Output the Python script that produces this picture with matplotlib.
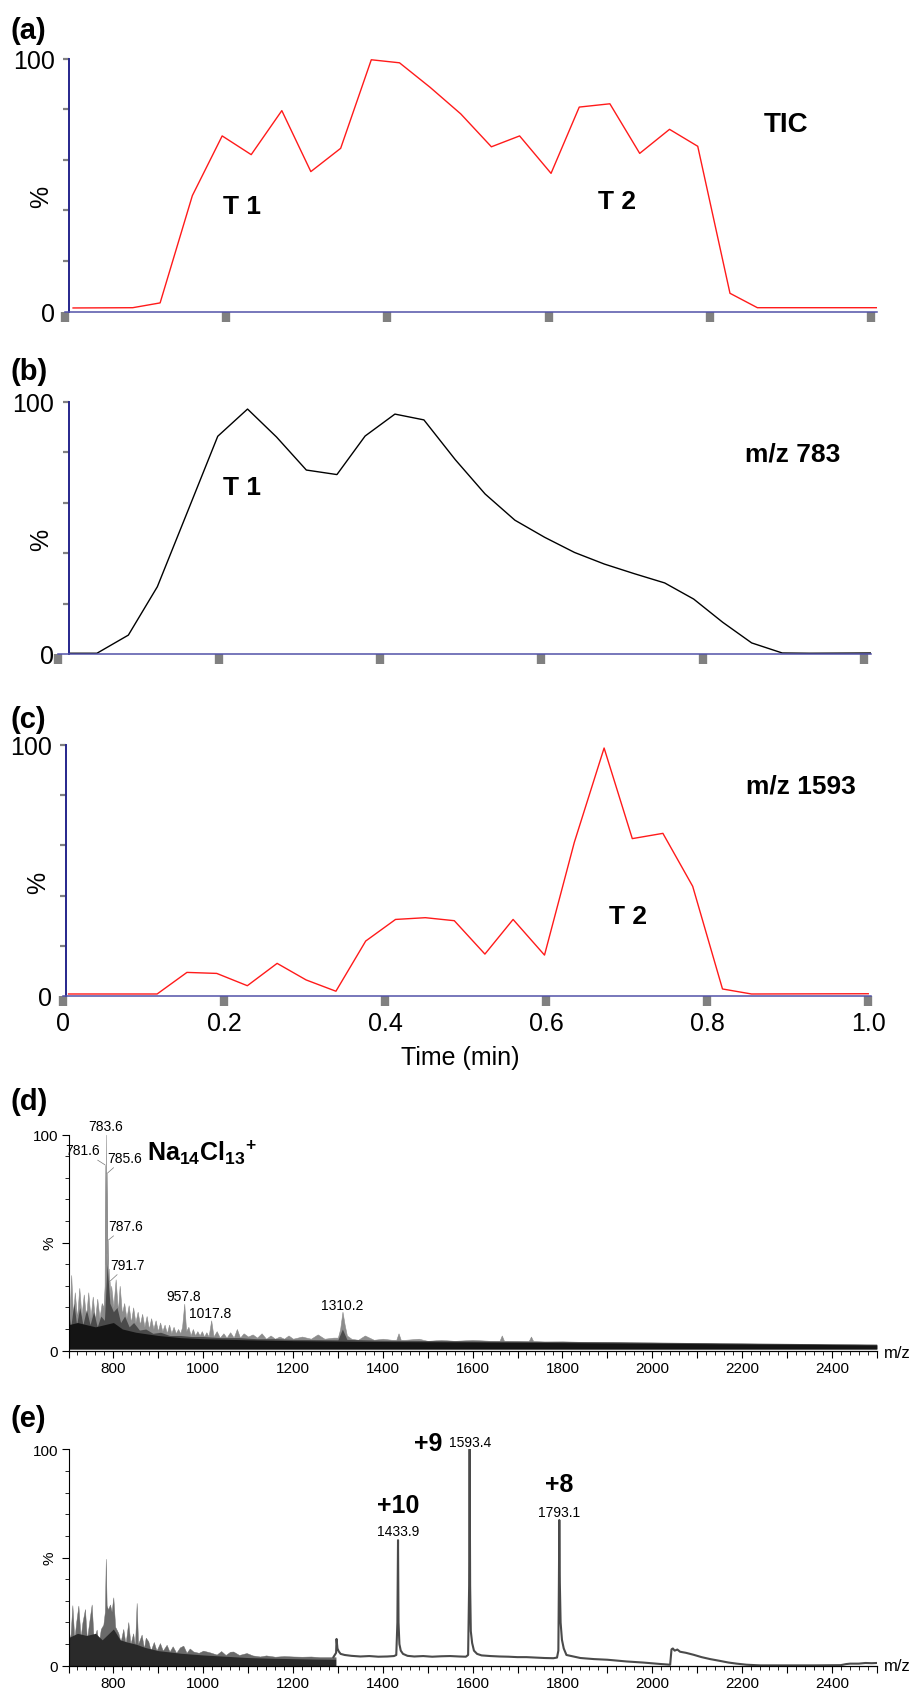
import matplotlib
matplotlib.use("Agg")
import matplotlib.pyplot as plt
from matplotlib.ticker import MultipleLocator, FixedLocator, FuncFormatter

plt.rcParams['font.family'] = ['Liberation Sans', 'DejaVu Sans']
plt.rcParams['mathtext.fontset'] = 'custom'
plt.rcParams['mathtext.rm'] = 'Liberation Sans'
plt.rcParams['mathtext.bf'] = 'Liberation Sans:bold'

# ---- chromatograms (time in min, relative intensity in %) ----
tic_time = [0.010, 0.084, 0.118, 0.158, 0.195, 0.231, 0.269, 0.305, 0.342, 0.380,
            0.415, 0.453, 0.491, 0.529, 0.564, 0.603, 0.638, 0.676, 0.713, 0.750,
            0.785, 0.825, 0.859, 1.007]
tic_pct = [1.4, 1.5, 3.4, 45.8, 69.4, 62.0, 79.4, 55.3, 64.5, 99.5,
           98.3, 88.6, 78.1, 65.1, 69.4, 54.6, 80.8, 82.1, 62.5, 72.0,
           65.3, 7.2, 1.5, 1.5]

mz783_time = [0.014, 0.048, 0.087, 0.123, 0.161, 0.198, 0.235, 0.271, 0.308, 0.346,
              0.381, 0.418, 0.454, 0.493, 0.530, 0.567, 0.604, 0.641, 0.678, 0.715,
              0.753, 0.789, 0.825, 0.861, 0.899, 0.933, 1.009]
mz783_pct = [0.3, 0.3, 7.5, 26.7, 56.9, 86.4, 97.2, 86.1, 73.0, 71.2,
             86.5, 95.2, 92.9, 77.1, 63.5, 53.1, 46.3, 40.3, 35.7, 31.9,
             28.2, 21.8, 12.6, 4.4, 0.4, 0.3, 0.4]

mz1593_time = [0.007, 0.117, 0.154, 0.191, 0.229, 0.266, 0.302, 0.339, 0.376, 0.413,
               0.450, 0.486, 0.524, 0.559, 0.598, 0.635, 0.672, 0.707, 0.745, 0.782,
               0.819, 0.855, 1.000]
mz1593_pct = [0.8, 0.8, 9.4, 9.0, 4.1, 13.0, 6.4, 1.9, 21.9, 30.5,
              31.2, 30.0, 16.7, 30.5, 16.3, 61.2, 98.8, 62.7, 64.8, 43.7,
              2.8, 0.8, 0.9]

time_ticks = [0, 0.2, 0.4, 0.6, 0.8, 1.0]
time_labels = ['0', '0.2', '0.4', '0.6', '0.8', '1.0']

# ---- spectrum (d): m/z vs %, three overlapping shades ----
mz_d_light = [700, 702, 706, 710, 714, 719, 724, 729, 734, 739,
              744, 749, 754, 759, 764, 769, 774, 778, 780.5, 781.6,
              782.5, 783.6, 784.6, 785.6, 786.6, 787.6, 788.6, 789.6, 790.6, 791.7,
              793, 795, 800, 805, 810, 814, 819, 824, 829, 834,
              839, 844, 849, 854, 859, 864, 869, 874, 879, 884,
              889, 894, 899, 904, 909, 914, 919, 924, 929, 934,
              939, 944, 949, 953, 957.8, 962, 967, 972, 977, 982,
              987, 992, 997, 1002, 1007, 1012, 1017.8, 1023, 1030, 1037,
              1045, 1052, 1060, 1068, 1075, 1082, 1090, 1100, 1110, 1120,
              1130, 1140, 1150, 1160, 1170, 1180, 1190, 1200, 1220, 1240,
              1255, 1270, 1290, 1300, 1305, 1310.2, 1315, 1320, 1330, 1345,
              1360, 1380, 1400, 1420, 1430, 1435, 1440, 1450, 1480, 1500,
              1530, 1560, 1600, 1640, 1660, 1665, 1670, 1680, 1700, 1725,
              1730, 1735, 1760, 1800, 1850, 1900, 1950, 2000, 2050, 2100,
              2150, 2200, 2250, 2300, 2350, 2400, 2450, 2500]
pct_d_light = [24, 14, 35, 16, 27, 15, 29, 16, 26, 15,
               27, 15, 25, 14, 24, 15, 22, 20, 30, 86,
               40, 100, 45, 82, 40, 51, 30, 38, 25, 32,
               24, 30, 20, 33, 18, 30, 17, 22, 15, 21,
               13, 20, 13, 18, 12, 17, 11, 16, 10, 15,
               10, 14, 9, 13, 9, 12, 8, 12, 8, 11,
               8, 10, 8, 11, 21.7, 9, 11, 7, 10, 7,
               9, 7, 9, 6.5, 8.5, 6.5, 14, 6.5, 9, 6,
               8, 6, 8.5, 6, 10, 6, 8, 6.5, 7.5, 6,
               8, 5.5, 7, 5.5, 6.5, 5.5, 7, 5.5, 6.5, 5.5,
               7.5, 5.5, 6, 6, 10, 18, 12, 7, 5.5, 5,
               7, 5, 5.5, 5, 5, 8, 5, 5, 5.5, 4.5,
               5, 4.5, 5, 4.5, 4.5, 7, 4.5, 4.5, 4.5, 4.4,
               6.5, 4.4, 4.2, 4.3, 4, 4, 3.8, 3.7, 3.5, 3.5,
               3.3, 3.3, 3.1, 3, 3, 2.8, 2.8, 2.6]

mz_d_mid = [700, 705, 712, 718, 725, 732, 740, 748, 756, 764,
            772, 780, 786, 792, 800, 808, 816, 825, 835, 845,
            858, 872, 888, 905, 925, 950, 975, 1000, 1040, 1080,
            1120, 1160, 1200, 1300, 1310, 1320, 1400, 1600, 1800, 2000,
            2200, 2500]
pct_d_mid = [18, 11, 22, 12, 20, 12, 19, 12, 18, 11,
             16, 14, 40, 22, 18, 20, 13, 16, 11, 13,
             9.5, 10, 8, 8.5, 7, 7, 6.5, 6.5, 6, 6,
             5.5, 5.5, 5.2, 5, 10, 5.2, 4.8, 4.5, 4.2, 3.9,
             3.5, 3.0]

mz_d_core = [700, 720, 740, 760, 780, 800, 820, 850, 900, 950,
             1000, 1100, 1200, 1300, 1400, 1600, 1800, 2000, 2200, 2400, 2500]
pct_d_core = [12, 13, 12, 11, 12, 13, 10, 8.5, 7, 6,
              5.5, 5, 4.6, 4.4, 4.2, 4.0, 3.7, 3.4, 3.1, 2.8, 2.6]

peaks_d = [781.6, 783.6, 785.6, 787.6, 791.7, 957.8, 1017.8, 1310.2]
peak_labels_d = ['781.6', '783.6', '785.6', '787.6', '791.7', '957.8', '1017.8', '1310.2']

# ---- spectrum (e) ----
mz_e_spk = [700, 704, 708.6, 713, 717, 722, 727, 731, 736.7, 741,
            746, 751.6, 756, 762.7, 767, 772, 777.6, 781, 783, 785,
            788, 792.4, 796, 799.8, 804, 811, 816, 822, 827, 833.2,
            838, 844, 848, 851.8, 855, 862.9, 868, 872, 877.7, 883,
            890, 896, 903.7, 910, 918.6, 925, 932, 940, 948, 955.7,
            963, 970, 978, 990, 1000, 1015, 1030, 1040, 1050, 1060,
            1067, 1080, 1096.7, 1110, 1126.4, 1140, 1160, 1180, 1200.6, 1220,
            1240, 1260, 1280, 1295]
pct_e_spk = [17, 12, 28, 12, 20, 27.8, 13, 20, 26.2, 12,
             20, 28.3, 12, 16.7, 10, 17, 19, 25, 49.4, 28,
             26, 28.3, 25, 31.6, 18, 15.1, 11, 17, 10, 20.2,
             10, 15, 9, 29, 10, 14.4, 8, 13, 11.3, 7,
             11, 7, 10.5, 7, 9.7, 6.5, 9, 6, 8.5, 9.3,
             6, 8, 6.6, 6, 7, 6.2, 5.2, 6.8, 5, 6.5,
             6.6, 5, 5.9, 4.8, 4.3, 4.8, 4.2, 4.5, 4.3, 4.2,
             4.3, 4, 4, 4]

mz_e_dark = [700, 720, 740, 760, 775, 785, 800, 815, 830, 850,
             870, 900, 950, 1000, 1050, 1100, 1150, 1200, 1250, 1295]
pct_e_dark = [13, 15, 14, 15, 12, 14, 17, 12, 11, 10,
              8.5, 7, 5.8, 5, 4.4, 3.8, 3.5, 3.3, 3.1, 3.0]

mz_e_line = [1290, 1296, 1297, 1299, 1302, 1306, 1315, 1330, 1350, 1370,
             1390, 1410, 1425, 1430, 1432.5, 1433.9, 1435, 1437, 1440, 1445,
             1455, 1470, 1490, 1510, 1530, 1550, 1570, 1585, 1590, 1592.3,
             1593.4, 1594.5, 1596, 1599, 1603, 1610, 1620, 1640, 1660, 1680,
             1700, 1720, 1740, 1760, 1780, 1788, 1791, 1792.2, 1793.1, 1794.3,
             1796, 1799, 1803, 1809, 1820, 1840, 1870, 1900, 1943, 1980,
             2020, 2040, 2043, 2046, 2050, 2056, 2062, 2075, 2092, 2110,
             2129, 2150, 2170, 2188, 2210, 2240, 2300, 2360, 2420, 2432,
             2441, 2460, 2475, 2489, 2500]
pct_e_line = [4, 6, 12.4, 8, 6.6, 5.5, 5, 4.6, 4.3, 4.5,
              4.2, 4.3, 4.5, 5, 20, 58, 20, 10, 7, 5.5,
              4.6, 4.3, 4.5, 4.2, 4.4, 4.5, 4.3, 4.2, 5, 37,
              100, 37, 16, 10.5, 7, 5.5, 4.8, 4.5, 4.3, 4.2,
              4, 4, 3.8, 3.6, 3.5, 3.8, 7, 38, 67.3, 38,
              20, 12, 8, 5, 4.5, 3.6, 3.1, 2.8, 2, 1.5,
              0.8, 0.5, 7.6, 8, 7, 7.5, 6.5, 6, 5.1, 4,
              3.1, 2.3, 1.5, 1, 0.5, 0.2, 0.2, 0.2, 0.3, 0.8,
              1, 1, 1.3, 1.2, 1.3]

peaks_e = [1433.9, 1593.4, 1793.1]
peak_labels_e = ['1433.9', '1593.4', '1793.1']
charge_labels_e = ['+10', '+9', '+8']

# ---- layout helpers (pixel positions of the 909 x 1690 figure) ----
W, H = 909, 1690
fig = plt.figure(figsize=(W / 100, H / 100), dpi=100)


def box(x0, x1, ytop, ybot):
    return [x0 / W, 1 - ybot / H, (x1 - x0) / W, (ybot - ytop) / H]


def ftext(x, y, s, **kw):
    fig.text(x / W, 1 - y / H, s, **kw)


def chrom(rect, t, p, color, xmax, spine_x, xlabels):
    ax = fig.add_axes(rect)
    ax.plot(t, p, color=color, lw=1.0)
    ax.set_xlim(0, xmax)
    ax.set_ylim(0, 100)
    ax.spines['top'].set_visible(False)
    ax.spines['right'].set_visible(False)
    ax.spines['left'].set_position(('data', spine_x))
    ax.spines['left'].set_color('#26268c')
    ax.spines['left'].set_linewidth(1.4)
    ax.spines['bottom'].set_color('#5252a8')
    ax.spines['bottom'].set_linewidth(1.1)
    ax.set_xticks(time_ticks)
    if xlabels:
        ax.set_xticklabels(time_labels)
    else:
        ax.set_xticklabels([])
    ax.tick_params(axis='x', direction='out', length=7, width=6,
                   color='#808080', labelsize=18, pad=4)
    ax.set_yticks([0, 100])
    ax.set_yticklabels(['0', '100'])
    ax.yaxis.set_minor_locator(FixedLocator([20, 40, 60, 80]))
    ax.tick_params(axis='y', which='both', direction='out', length=4.3, width=1.6,
                   color='#808080', labelsize=18, pad=6)
    ax.yaxis.get_major_ticks()[0].tick1line.set_visible(False)
    return ax


# (a) TIC
chrom(box(65, 877, 59.5, 312.5), tic_time, tic_pct, '#ff1a1a', 1.0074, 0.005, False)
ftext(11, 31, '(a)', fontsize=21, fontweight='bold', ha='left', va='center')
ftext(242, 207, 'T 1', fontsize=19, fontweight='bold', ha='center', va='center')
ftext(617, 202, 'T 2', fontsize=19, fontweight='bold', ha='center', va='center')
ftext(786, 125, 'TIC', fontsize=20, fontweight='bold', ha='center', va='center')
ftext(41, 197, '%', fontsize=18, rotation=90, ha='center', va='center')

# (b) m/z 783
chrom(box(58.3, 871, 403, 655), mz783_time, mz783_pct, 'black', 1.0092, 0.013, False)
ftext(11, 372, '(b)', fontsize=21, fontweight='bold', ha='left', va='center')
ftext(242, 488, 'T 1', fontsize=19, fontweight='bold', ha='center', va='center')
ftext(793, 455, 'm/z 783', fontsize=19, fontweight='bold', ha='center', va='center')
ftext(41, 540, '%', fontsize=18, rotation=90, ha='center', va='center')

# (c) m/z 1593
axc = chrom(box(62.9, 871, 746, 997), mz1593_time, mz1593_pct, '#ff1a1a', 1.0034, 0.004, True)
ftext(11, 720, '(c)', fontsize=21, fontweight='bold', ha='left', va='center')
ftext(801, 787, 'm/z 1593', fontsize=19, fontweight='bold', ha='center', va='center')
ftext(628, 917, 'T 2', fontsize=19, fontweight='bold', ha='center', va='center')
ftext(38, 883, '%', fontsize=18, rotation=90, ha='center', va='center')
ftext(460, 1058, 'Time (min)', fontsize=18, ha='center', va='center')


def spec_axes(rect):
    ax = fig.add_axes(rect)
    ax.set_xlim(700, 2500)
    ax.set_ylim(0, 100)
    ax.spines['top'].set_visible(False)
    ax.spines['right'].set_visible(False)
    ax.spines['left'].set_linewidth(0.8)
    ax.spines['bottom'].set_linewidth(0.9)
    ax.xaxis.set_major_locator(MultipleLocator(100))
    ax.xaxis.set_minor_locator(MultipleLocator(20))
    ax.xaxis.set_major_formatter(FuncFormatter(
        lambda v, pos: f'{v:.0f}' if round(v) % 200 == 0 and v > 700 else ''))
    ax.set_yticks([0, 50, 100])
    ax.set_yticklabels(['0', '', '100'])
    ax.yaxis.set_minor_locator(MultipleLocator(10))
    ax.tick_params(which='major', length=5, width=0.8, labelsize=11, pad=2.5)
    ax.tick_params(which='minor', length=2.6, width=0.6)
    return ax


def height_at(mz_list, pct_list, m):
    return pct_list[mz_list.index(m)]


# (d) spectrum summed over T1
axd = spec_axes(box(68.5, 876.7, 1135.7, 1351.6))
axd.fill_between(mz_d_light, 0.8, pct_d_light, color='#8c8c8c', lw=0.4)
axd.fill_between(mz_d_mid, 0.8, pct_d_mid, color='#4a4a4a', lw=0)
axd.fill_between(mz_d_core, 0.8, pct_d_core, color='#141414', lw=0)
offsets_d = [(-16.4, 10.5), (0, 6.5), (12.8, 11.3), (12.9, 10.4), (13, 12),
             (-0.7, 5.5), (-0.8, 5.5), (0, 4.8)]
for m, lab, off in zip(peaks_d, peak_labels_d, offsets_d):
    h = height_at(mz_d_light, pct_d_light, m)
    arrow = dict(arrowstyle='-', color='#777777', lw=0.5, shrinkA=0, shrinkB=0) if abs(off[0]) > 5 else None
    axd.annotate(lab, xy=(m, h), xytext=off, textcoords='offset points',
                 ha='center', va='center', fontsize=10, arrowprops=arrow)
axd.annotate(r'Na$_{\mathbf{14}}$Cl$_{\mathbf{13}}$$^{\mathbf{+}}$', xy=(783.6, 100),
             xytext=(29.5, -12), textcoords='offset points', ha='left', va='center',
             fontsize=18, fontweight='bold')
ftext(11, 1102, '(d)', fontsize=21, fontweight='bold', ha='left', va='center')
ftext(49.5, 1243, '%', fontsize=11, rotation=90, ha='center', va='center')
ftext(884, 1353, 'm/z', fontsize=12, ha='left', va='center')

# (e) spectrum summed over T2
axe = spec_axes(box(68.5, 876.7, 1450.2, 1666.8))
axe.fill_between(mz_e_spk, 0, pct_e_spk, color='#6a6a6a', lw=0.3)
axe.fill_between(mz_e_dark, 0, pct_e_dark, color='#2a2a2a', lw=0)
axe.plot(mz_e_line, pct_e_line, color='#4a4a4a', lw=1.5)
lab_off_e = [(0, 6.4), (0, 5.2), (0, 5.5)]
chg_off_e = [(0, 25), (-30, 4.3), (0, 26)]
for m, lab, chg, lo, co in zip(peaks_e, peak_labels_e, charge_labels_e, lab_off_e, chg_off_e):
    h = height_at(mz_e_line, pct_e_line, m)
    axe.annotate(lab, xy=(m, h), xytext=lo, textcoords='offset points',
                 ha='center', va='center', fontsize=10)
    axe.annotate(chg, xy=(m, h), xytext=co, textcoords='offset points',
                 ha='center', va='center', fontsize=18, fontweight='bold')
ftext(11, 1419, '(e)', fontsize=21, fontweight='bold', ha='left', va='center')
ftext(49.5, 1558, '%', fontsize=11, rotation=90, ha='center', va='center')
ftext(884, 1667, 'm/z', fontsize=12, ha='left', va='center')

fig.savefig('out.png', dpi=100)
